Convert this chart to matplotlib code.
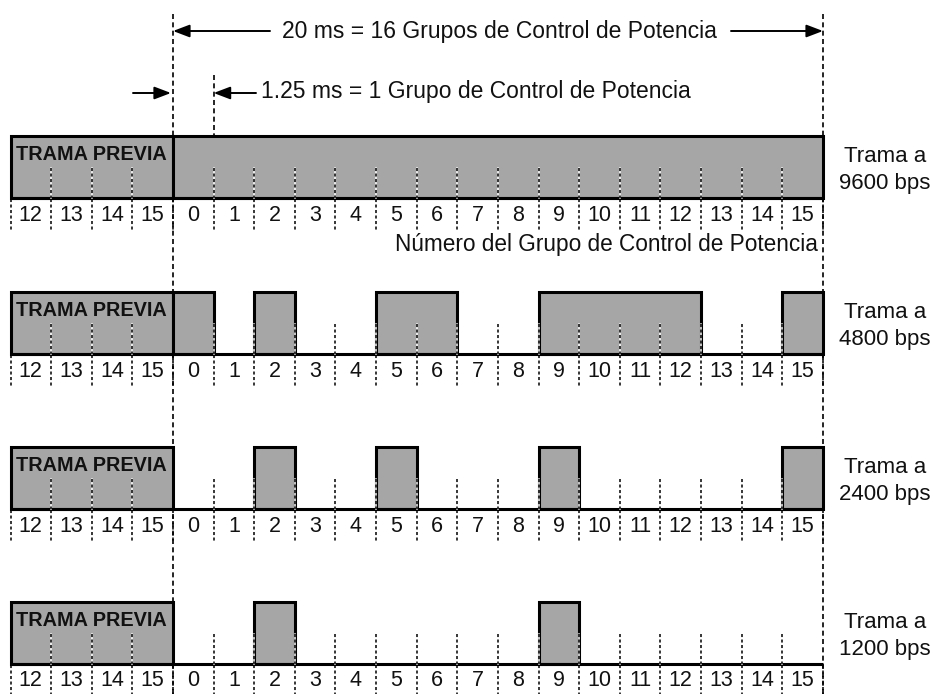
import matplotlib
matplotlib.use("Agg")
import matplotlib.pyplot as plt
from matplotlib.patches import Rectangle

plt.rcParams['font.family'] = ['Liberation Sans', 'DejaVu Sans']

# datos
prev_labels = [12, 13, 14, 15]
slot_labels = list(range(16))
rates = ['9600', '4800', '2400', '1200']
on_9600 = list(range(16))
on_4800 = [0, 2, 5, 6, 9, 10, 11, 12, 15]
on_2400 = [2, 5, 9, 15]
on_1200 = [2, 9]
gated = [on_9600, on_4800, on_2400, on_1200]

# geometria (pixeles de la figura)
W, H = 934, 694
x0, sw = 173, 40.625          # inicio de la trama y ancho de un grupo
row_top = [136, 292, 447, 602]
row_h = 62
gray = '#a6a6a6'
txt = '#111111'


def sx(px):
    return (px - x0) / sw


fig = plt.figure(figsize=(W / 100, H / 100), dpi=100)
ax = fig.add_axes([0, 0, 1, 1])
ax.set_xlim(sx(0), sx(W))
ax.set_ylim(H, 0)
ax.axis('off')

dot = (0, (2, 1.6))

for r, top in enumerate(row_top):
    bot = top + row_h
    # trama previa
    ax.add_patch(Rectangle((-4, top), 4, row_h, fc=gray, ec='black', lw=2.2, zorder=3))
    ax.text(-2, top + 18, 'TRAMA PREVIA', ha='center', va='center', fontsize=14.3,
            fontweight='bold', color=txt, zorder=4)
    # grupos transmitidos (agrupados en tramos consecutivos)
    runs = []
    for s in gated[r]:
        if runs and runs[-1][1] == s:
            runs[-1][1] = s + 1
        else:
            runs.append([s, s + 1])
    for a, b in runs:
        ax.add_patch(Rectangle((a, top), b - a, row_h, fc=gray, ec='black', lw=2.2, zorder=3))
    # linea base
    ax.plot([-4, 16], [bot, bot], color='black', lw=2.2, zorder=3, solid_capstyle='butt')
    # separadores internos
    for b in list(range(-3, 0)) + list(range(1, 16)):
        ax.plot([b, b], [bot - 30, bot], color='white', lw=1.1, zorder=3.5)
        ax.plot([b, b], [bot - 30, bot], color='black', lw=1.1, ls=dot, zorder=3.6)
    # separadores de etiquetas
    for b in range(-4, 17):
        ax.plot([b, b], [bot + 1, bot + 33], color='black', lw=1.1, ls=dot, zorder=2)
    for i, lab in enumerate(prev_labels):
        ax.text(-4 + i + 0.5, bot + 17, str(lab), ha='center', va='center',
                fontsize=15.5, color=txt)
    for i, lab in enumerate(slot_labels):
        ax.text(i + 0.5, bot + 17, str(lab), ha='center', va='center',
                fontsize=15.5, color=txt)
    ax.text(sx(885), top + 34, 'Trama a\n' + rates[r] + ' bps', ha='center', va='center',
            fontsize=16, color=txt, linespacing=1.35)

# lineas verticales discontinuas largas
for b in [0, 16]:
    ax.plot([b, b], [14, H], color='black', lw=1.2, ls=(0, (3, 2)), zorder=1)
ax.plot([1, 1], [75, row_top[0]], color='black', lw=1.2, ls=(0, (3, 2)), zorder=1)

# flechas y textos superiores
arw = dict(arrowstyle='-|>,head_length=1.0,head_width=0.38', color='black', lw=1.4,
           shrinkA=0, shrinkB=0)
ax.annotate('', xy=(0, 31), xytext=(sx(270), 31), arrowprops=arw)
ax.annotate('', xy=(16, 31), xytext=(sx(731), 31), arrowprops=arw)
ax.text(sx(499), 31, '20 ms = 16 Grupos de Control de Potencia', ha='center',
        va='center', fontsize=16.5, color=txt)
ax.annotate('', xy=(1, 93), xytext=(sx(256), 93), arrowprops=arw)
ax.text(sx(261), 91, '1.25 ms = 1 Grupo de Control de Potencia', ha='left',
        va='center', fontsize=16.5, color=txt)
ax.annotate('', xy=(-0.05, 93), xytext=(sx(133), 93), arrowprops=arw)

ax.text(sx(818), 244, 'Número del Grupo de Control de Potencia', ha='right',
        va='center', fontsize=16.3, color=txt)

fig.savefig('out.png', dpi=100)
